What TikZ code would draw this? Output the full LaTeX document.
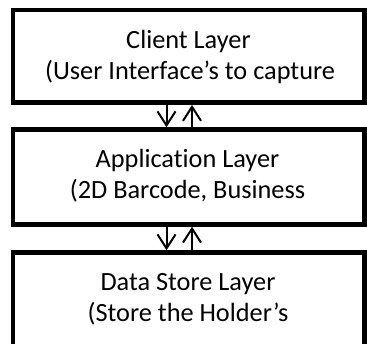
\documentclass[tikz,border=0pt]{standalone}
\usepackage{fontspec}
\setmainfont[Ligatures=NoCommon]{Carlito}
\usetikzlibrary{arrows.meta}

\tikzset{
  layerbox/.style={draw=black, line width=4.5pt, fill=white, rectangle,
    minimum width=351.5pt, inner sep=0pt},
  lbl/.style={anchor=base, inner sep=0pt, font=\fontsize{26.3}{31}\selectfont},
  flow/.style={draw=black, line width=2pt,
    -{Straight Barb[length=14pt, width=18pt, line width=2pt]}}
}

\begin{document}
\begin{tikzpicture}[x=1pt, y=-1pt]
  \useasboundingbox (0,0) rectangle (367,344);
  \clip (0,0) rectangle (367,344);

  % the three layers, stacked top to bottom
  \node[layerbox, minimum height=92.5pt] (client) at (188.75,56.5) {};
  \node[layerbox, minimum height=95pt]   (app)    at (188.75,177) {};
  \node[layerbox, minimum height=120pt]  (store)  at (188.75,312.5) {};

  % layer captions
  \node[lbl] (clientA) at (188.5,49)  {Client Layer};
  \node[lbl] (clientB) at (190,80)    {(User Interface’s to capture};
  \node[lbl] (appA)    at (187.5,168) {Application Layer};
  \node[lbl] (appB)    at (187.5,199) {(2D Barcode, Business};
  \node[lbl] (storeA)  at (188,291)   {Data Store Layer};
  \node[lbl] (storeB)  at (188,322)   {(Store the Holder’s};

  % request (down) and response (up) arrows between layers
  \coordinate (dn) at (166.5,0);
  \coordinate (up) at (192,0);
  \draw[flow] (client.south -| dn) -- (app.north -| dn);
  \draw[flow] (app.north -| up) -- (client.south -| up);
  \draw[flow] (app.south -| dn) -- (store.north -| dn);
  \draw[flow] (store.north -| up) -- (app.south -| up);
\end{tikzpicture}
\end{document}
